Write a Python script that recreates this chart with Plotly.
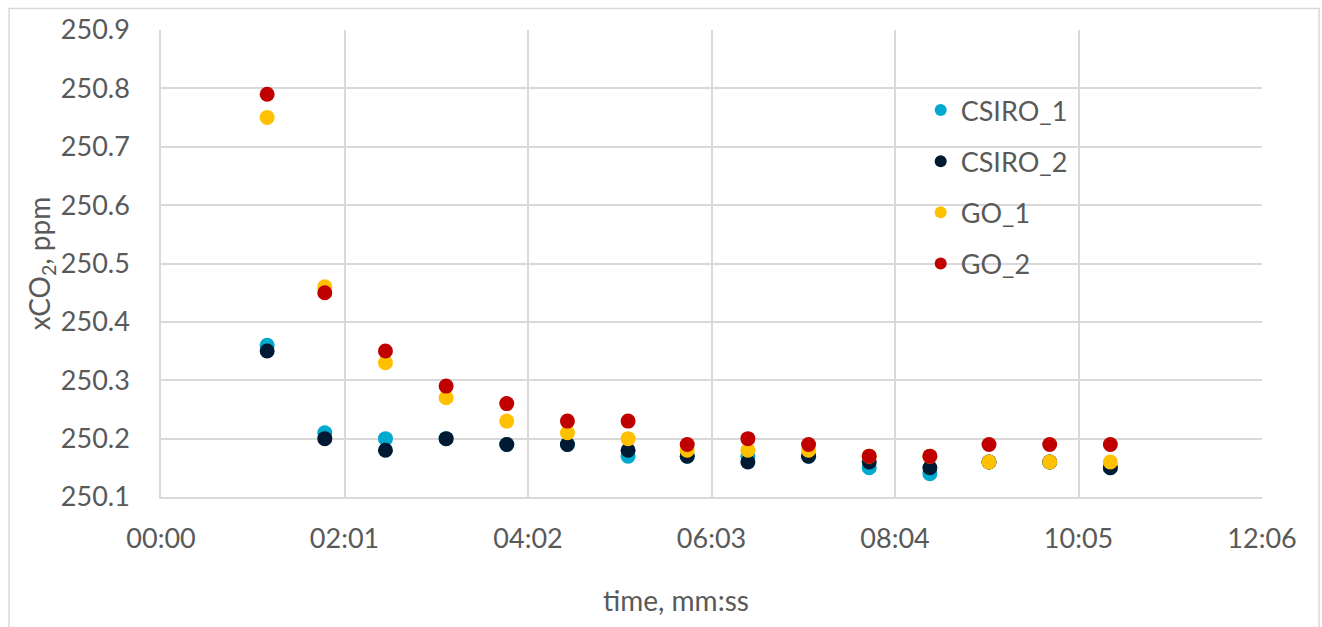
import plotly.graph_objects as go

# time in seconds for each sample
time_s = [70, 108, 148, 188, 228, 268, 308, 347, 387, 427, 467, 507, 546, 586, 626]

csiro_1 = [250.36, 250.21, 250.20, 250.20, 250.19, 250.19, 250.17, 250.17, 250.17, 250.17, 250.15, 250.14, 250.16, 250.16, 250.15]
csiro_2 = [250.35, 250.20, 250.18, 250.20, 250.19, 250.19, 250.18, 250.17, 250.16, 250.17, 250.16, 250.15, 250.16, 250.16, 250.15]
go_1 = [250.75, 250.46, 250.33, 250.27, 250.23, 250.21, 250.20, 250.18, 250.18, 250.18, 250.17, 250.17, 250.16, 250.16, 250.16]
go_2 = [250.79, 250.45, 250.35, 250.29, 250.26, 250.23, 250.23, 250.19, 250.20, 250.19, 250.17, 250.17, 250.19, 250.19, 250.19]

x_tickvals = [0, 121, 242, 363, 484, 605, 726]
x_ticktext = ["00:00", "02:01", "04:02", "06:03", "08:04", "10:05", "12:06"]
y_tickvals = [250.1, 250.2, 250.3, 250.4, 250.5, 250.6, 250.7, 250.8, 250.9]

series = [
    ("CSIRO_1", csiro_1, "#00A9CE"),
    ("CSIRO_2", csiro_2, "#001A33"),
    ("GO_1", go_1, "#FFC000"),
    ("GO_2", go_2, "#C00000"),
]

FONT = "Lato, 'Liberation Sans', sans-serif"
TXT = "#595959"

fig = go.Figure()
for name, vals, col in series:
    fig.add_trace(go.Scatter(
        x=time_s, y=vals, name=name, mode="markers", legendgroup=name,
        marker=dict(size=15, color=col, line=dict(width=0)),
    ))

fig.update_layout(
    width=1322, height=627,
    margin=dict(l=161, r=60, t=30, b=130),
    paper_bgcolor="white", plot_bgcolor="white",
    font=dict(family=FONT, size=27, color=TXT),
    showlegend=True,
    legend=dict(
        x=0.69, y=0.88, xanchor="left", yanchor="top",
        bgcolor="rgba(0,0,0,0)", font=dict(size=27, color=TXT),
        itemsizing="constant", tracegroupgap=13, itemwidth=30,
    ),
    xaxis=dict(
        range=[0, 726], tickmode="array", tickvals=x_tickvals, ticktext=x_ticktext,
        showgrid=True, gridcolor="#D9D9D9", gridwidth=1.5,
        showline=True, linecolor="#D9D9D9", linewidth=1.5,
        zeroline=False, ticks="", ticklabelstandoff=17, automargin=False,
        tickfont=dict(size=27, color=TXT),
    ),
    yaxis=dict(
        range=[250.1, 250.9], tickmode="array", tickvals=y_tickvals,
        ticktext=[f"{v:.1f}" for v in y_tickvals],
        showgrid=True, gridcolor="#D9D9D9", gridwidth=1.5,
        showline=True, linecolor="#D9D9D9", linewidth=1.5,
        zeroline=False, ticks="", ticklabelstandoff=24, automargin=False,
        title=dict(text="xCO<sub>2</sub>, ppm", standoff=2, font=dict(size=28, color=TXT)),
        tickfont=dict(size=27, color=TXT),
    ),
    annotations=[dict(
        text="time, mm:ss", xref="paper", yref="paper", x=0.468, y=-0.221,
        xanchor="center", yanchor="middle", showarrow=False,
        font=dict(size=28, color=TXT),
    )],
    shapes=[dict(
        type="rect", xref="paper", yref="paper",
        x0=-0.138, x1=1.0518, y0=-0.30, y1=1.046,
        line=dict(color="#D9D9D9", width=1.5), fillcolor="rgba(0,0,0,0)", layer="below",
    )],
)

fig.write_html("out.html", config={"displayModeBar": False},
               post_script="document.body.style.margin='0';")
